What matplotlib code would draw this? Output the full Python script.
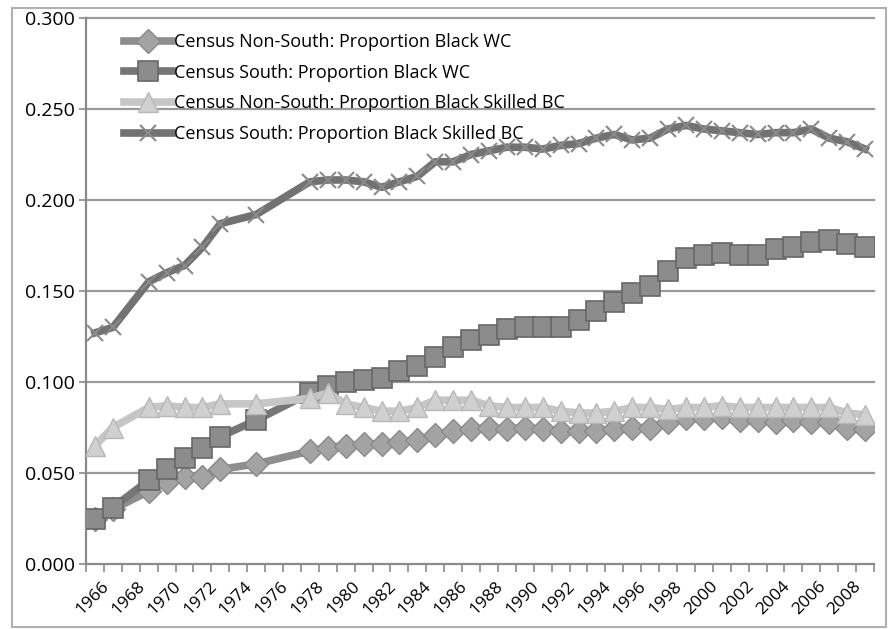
import matplotlib
matplotlib.use("Agg")
import matplotlib.pyplot as plt
from matplotlib.patches import Rectangle
import numpy as np

years = [1966, 1967, 1969, 1970, 1971, 1972, 1973, 1975] + list(range(1978, 2010))

nonsouth_wc = [0.025, 0.030, 0.040, 0.045, 0.048, 0.048, 0.052, 0.055,
               0.062, 0.064, 0.065, 0.066, 0.066, 0.067, 0.068, 0.071, 0.073, 0.074,
               0.075, 0.074, 0.075, 0.074, 0.073, 0.073, 0.073, 0.074, 0.075, 0.075,
               0.078, 0.080, 0.080, 0.081, 0.079, 0.079, 0.078, 0.079, 0.078, 0.078,
               0.075, 0.074]
south_wc = [0.025, 0.031, 0.046, 0.052, 0.058, 0.064, 0.070, 0.079,
            0.094, 0.098, 0.100, 0.101, 0.102, 0.106, 0.109, 0.114, 0.119, 0.123,
            0.126, 0.129, 0.130, 0.130, 0.130, 0.134, 0.139, 0.144, 0.149, 0.153,
            0.161, 0.168, 0.170, 0.171, 0.170, 0.170, 0.173, 0.174, 0.177, 0.178,
            0.176, 0.174]
nonsouth_bc = [0.065, 0.075, 0.086, 0.087, 0.086, 0.086, 0.088, 0.088,
               0.091, 0.094, 0.088, 0.086, 0.084, 0.084, 0.086, 0.090, 0.090, 0.090,
               0.087, 0.086, 0.086, 0.086, 0.084, 0.083, 0.083, 0.084, 0.086, 0.086,
               0.085, 0.086, 0.086, 0.087, 0.086, 0.086, 0.086, 0.086, 0.086, 0.086,
               0.083, 0.082]
south_bc = [0.127, 0.130, 0.155, 0.160, 0.164, 0.174, 0.187, 0.192,
            0.210, 0.211, 0.211, 0.210, 0.207, 0.210, 0.213, 0.221, 0.221, 0.225,
            0.227, 0.229, 0.229, 0.228, 0.230, 0.231, 0.234, 0.236, 0.233, 0.234,
            0.239, 0.241, 0.239, 0.238, 0.237, 0.236, 0.237, 0.237, 0.239, 0.234,
            0.232, 0.228]

labels = ["Census Non-South: Proportion Black WC",
          "Census South: Proportion Black WC",
          "Census Non-South: Proportion Black Skilled BC",
          "Census South: Proportion Black Skilled BC"]

category_years = list(range(1966, 2010))
tick_years = list(range(1966, 2009, 2))
yticks = [0.0, 0.05, 0.10, 0.15, 0.20, 0.25, 0.30]

plt.rcParams['font.family'] = ['Open Sans', 'DejaVu Sans']

fig = plt.figure(figsize=(8.88, 6.29), dpi=100)
ax = fig.add_axes([86/888, 1 - 564/629, (874-86)/888, (564-18)/629])

fig.patches.append(Rectangle((12/888, 0.003), (886-12)/888, (624-5)/629, transform=fig.transFigure,
                             fill=False, edgecolor='#b0b0b0', linewidth=1.5))

for y in yticks[1:]:
    ax.axhline(y, color='#9a9a9a', linewidth=1.6, zorder=1, clip_on=False)

ax.plot(years, nonsouth_wc, color='#8e8e8e', linewidth=5.5, marker='D', markersize=12,
        markerfacecolor='#a3a3a3', markeredgecolor='#8a8a8a', markeredgewidth=1, label=labels[0], zorder=3)
ax.plot(years, south_wc, color='#767676', linewidth=5.5, marker='s', markersize=15,
        markerfacecolor='#8c8c8c', markeredgecolor='#676767', markeredgewidth=1.2, label=labels[1], zorder=4)
ax.plot(years, nonsouth_bc, color='#c6c6c6', linewidth=5.5, marker='^', markersize=14,
        markerfacecolor='#d0d0d0', markeredgecolor='#b8b8b8', markeredgewidth=1, label=labels[2], zorder=5)
ax.plot(years, south_bc, color='#727272', linewidth=5.5, marker='x', markersize=12,
        markeredgecolor='#8a8a8a', markeredgewidth=1.5, label=labels[3], zorder=6)

ax.set_xlim(category_years[0] - 0.5, category_years[-1] + 0.5)
ax.set_ylim(0, 0.30)

ax.set_yticks(yticks)
ax.set_yticklabels([f"{v:.3f}" for v in yticks], fontsize=14)
ax.set_xticks(np.arange(category_years[0] - 0.5, category_years[-1] + 1.0, 1.0))
ax.set_xticklabels([])
ax.tick_params(axis='x', direction='out', length=6, width=1.2, color='#8a8a8a')
ax.tick_params(axis='y', direction='out', length=5, width=1.2, color='#8a8a8a', pad=3)

for yr in tick_years:
    ax.text(yr + 0.35, -0.008, str(yr), rotation=45, ha='right', va='top',
            rotation_mode='anchor', fontsize=12.5, transform=ax.transData)

for s in ['top', 'right']:
    ax.spines[s].set_visible(False)
for s in ['left', 'bottom']:
    ax.spines[s].set_color('#8a8a8a')
    ax.spines[s].set_linewidth(1.6)

leg = ax.legend(loc='upper left', bbox_to_anchor=(0.027, 1.002), frameon=False, fontsize=13,
                handlelength=2.7, handletextpad=0.1, labelspacing=0.7, numpoints=1)

fig.savefig('out.png', dpi=100)
